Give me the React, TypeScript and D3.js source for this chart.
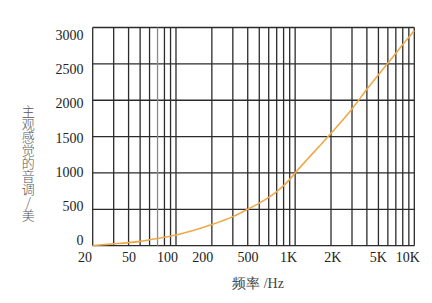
import React from "react";
import * as d3 from "d3";

const gridFreqs = [20, 30, 40, 50, 60, 70, 80, 90, 100, 200, 300, 400, 500, 600, 700, 800, 900, 1000, 2000, 3000, 4000, 5000, 6000, 7000, 8000, 9000, 10000];
const xTickLabels = ["20", "50", "100", "200", "500", "1K", "2K", "5K", "10K"];
const xTickLabelAt = [17.2, 40.3, 84.8, 168, 402, 879, 2075, 5000, 8830];
const yTicks = [0, 500, 1000, 1500, 2000, 2500, 3000];
const curveFreq = [20, 30, 40, 50, 70, 100, 200, 300, 400, 500, 600, 700, 800, 900, 1000, 2000, 3000, 4000, 5000, 6000, 7000, 8000, 9000, 10000];
const curveMel = [3, 25, 42, 60, 100, 147, 290, 400, 500, 585, 665, 745, 825, 912, 1000, 1545, 1880, 2150, 2350, 2510, 2645, 2765, 2865, 2960];
const yTitle = "主观感觉的音调/美";
const xTitle = "频率 /Hz";

export default function App() {
  const W = 432, H = 303;
  const left = 92.7, right = 414.3, top = 27.5, bottom = 245.7;
  const x = d3.scaleLog().domain([20, 10000]).range([left, right]);
  const y = d3.scaleLinear().domain([0, 3000]).range([bottom, top]);
  const yLab = d3.scaleLinear().domain([0, 3000]).range([240.5, 35]);
  const line = d3
    .line<number>()
    .x((_, i) => x(curveFreq[i]))
    .y((d) => y(d))
    .curve(d3.curveMonotoneX);
  const serif = "'Liberation Serif', 'DejaVu Serif', serif";
  return (
    <svg width={W} height={H} style={{ position: "absolute", left: 0, top: 0, background: "#fff" }}>
      {yTicks.map((t) => (
        <line key={"h" + t} x1={left} x2={right} y1={y(t)} y2={y(t)} stroke="#2b2b2b" strokeWidth={1.3} />
      ))}
      {gridFreqs.map((f) => (
        <line key={"v" + f} x1={x(f)} x2={x(f)} y1={top} y2={bottom} stroke={f === 70 ? "#8a8a8a" : "#2b2b2b"} strokeWidth={1.3} />
      ))}
      <path d={line(curveMel) || ""} fill="none" stroke="#eeaa4a" strokeWidth={1.6} />
      {yTicks.map((t) => (
        <text key={"yl" + t} x={83.5} y={yLab(t)} dy="0.35em" textAnchor="end" fontFamily={serif} fontSize={14} fill="#222">
          {t}
        </text>
      ))}
      {xTickLabels.map((l, i) => (
        <text key={"xl" + l} x={x(xTickLabelAt[i])} y={257.5} dy="0.35em" textAnchor="middle" fontFamily={serif} fontSize={14} fill="#222">
          {l}
        </text>
      ))}
      <text
        x={28.3}
        y={105}
        fontFamily="'Noto Sans CJK SC', sans-serif"
        fontWeight={300}
        fontSize={13}
        fill="#555"
        style={{ writingMode: "vertical-rl", textOrientation: "upright" } as React.CSSProperties}
      >
        {yTitle}
      </text>
      <text x={258} y={283} dy="0.35em" textAnchor="middle" fontFamily={serif} fontSize={14} fill="#444">
        {xTitle}
      </text>
    </svg>
  );
}
